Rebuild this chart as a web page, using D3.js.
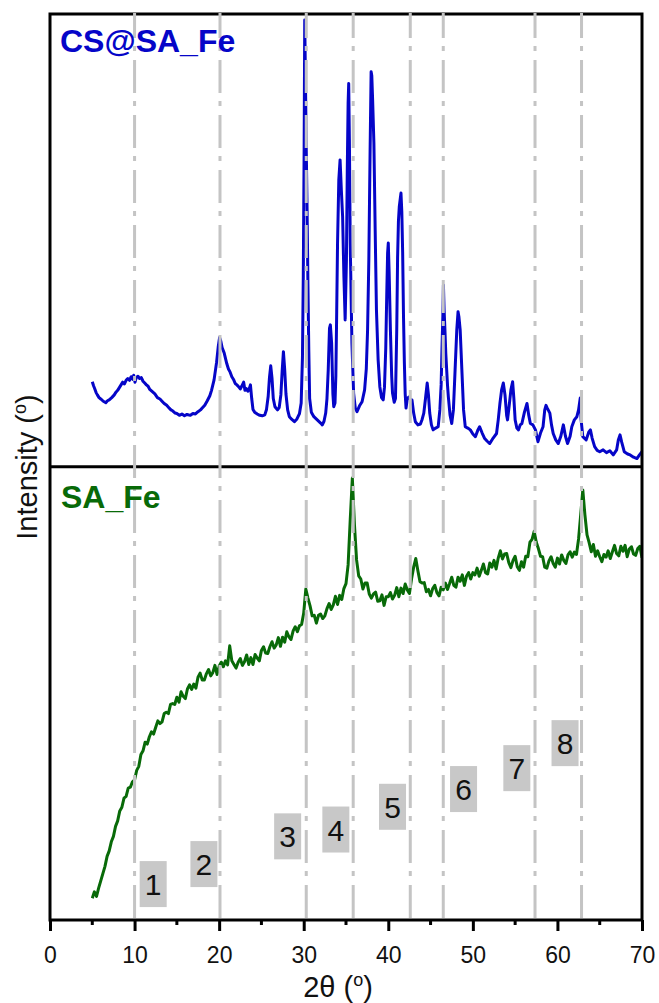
<!doctype html>
<meta charset="utf-8">
<style>
body { margin: 0; background: #fff; }
text { font-family: Arial, "Liberation Sans", sans-serif; }
</style>
<script src="https://d3js.org/d3.v7.min.js"></script>
<body>
<svg id="xrd"></svg>
<script>
// CS@SA_Fe pattern, [2theta, counts a.u.]
var csTheta = [5.0,5.15,5.3,5.45,5.6,5.8,6.0,6.3,6.6,6.8,7.0,7.3,7.6,7.8,8.0,8.2,8.4,8.6,8.8,9.0,9.2,9.4,9.6,9.8,9.9,10.05,10.2,10.4,10.6,10.8,11.0,11.2,11.4,11.6,11.8,12.1,12.4,12.7,13.0,13.3,13.5,13.8,14.0,14.3,14.5,14.8,15.0,15.3,15.6,15.9,16.2,16.6,16.9,17.2,17.5,17.8,18.0,18.3,18.6,18.9,19.1,19.4,19.7,19.9,20.05,20.2,20.35,20.6,20.9,21.1,21.3,21.5,21.7,21.9,22.1,22.3,22.5,22.7,22.9,23.05,23.2,23.4,23.6,23.7,23.85,24.0,24.2,24.5,24.8,25.1,25.4,25.6,25.8,25.95,26.1,26.25,26.4,26.6,26.9,27.1,27.3,27.45,27.6,27.75,27.9,28.1,28.3,28.6,28.9,29.2,29.5,29.7,29.85,29.95,30.05,30.12,30.2,30.3,30.4,30.5,30.6,30.7,30.9,31.2,31.6,32.0,32.2,32.4,32.6,32.75,32.9,33.05,33.15,33.3,33.45,33.55,33.7,33.8,33.9,34.0,34.15,34.3,34.45,34.6,34.75,34.9,35.05,35.15,35.25,35.32,35.4,35.5,35.6,35.7,35.9,36.1,36.3,36.6,36.9,37.2,37.4,37.55,37.7,37.85,37.97,38.05,38.15,38.3,38.45,38.6,38.8,39.0,39.2,39.4,39.55,39.7,39.82,39.92,40.0,40.1,40.25,40.4,40.5,40.7,40.85,41.0,41.1,41.2,41.3,41.42,41.5,41.6,41.7,41.8,41.9,42.0,42.1,42.25,42.4,42.6,42.8,43.0,43.2,43.5,43.8,44.0,44.2,44.4,44.6,44.75,44.9,45.1,45.3,45.6,45.9,46.1,46.25,46.35,46.45,46.52,46.6,46.7,46.8,47.0,47.1,47.3,47.5,47.7,47.9,48.1,48.25,48.35,48.5,48.7,48.9,49.1,49.4,49.7,50.0,50.3,50.6,50.8,51.1,51.4,51.7,52.0,52.4,52.8,53.0,53.2,53.4,53.6,53.8,54.0,54.1,54.3,54.5,54.7,54.85,55.0,55.2,55.4,55.6,55.8,56.1,56.4,56.6,56.8,57.1,57.4,57.7,58.0,58.3,58.5,58.65,58.8,59.1,59.3,59.5,59.8,60.1,60.4,60.7,60.95,61.2,61.5,61.7,62.0,62.3,62.5,62.7,62.8,63.0,63.4,63.7,63.9,64.1,64.4,64.7,65.0,65.4,65.8,66.2,66.6,67.0,67.2,67.4,67.6,67.9,68.3,68.6,69.0,69.4,69.7,70.0];
var csCounts = [187,178,171,163,158,152,149,144,141,145,147,152,158,164,168,174,180,186,182,190,194,190,198,192,201,186,196,199,194,196,188,184,180,177,170,165,160,152,149,143,139,135,131,125,123,118,117,113,116,112,115,113,117,116,121,125,129,135,145,156,168,191,230,265,284,276,262,250,227,215,208,198,192,183,180,176,171,178,186,168,172,166,174,180,150,126,120,116,113,112,114,126,155,196,222,195,150,132,125,130,158,210,253,214,160,125,110,104,99,105,117,140,240,420,700,983,860,700,564,400,257,150,120,110,103,96,92,100,118,150,213,305,312,272,160,132,140,200,340,492,631,675,608,550,420,323,455,650,800,843,720,492,380,272,162,129,121,134,143,169,215,300,455,696,869,860,806,711,520,345,235,176,152,147,175,260,380,470,492,429,301,200,162,142,150,301,460,540,572,590,602,560,470,330,230,160,129,150,153,148,147,118,99,92,94,104,118,150,184,158,118,92,81,85,88,125,180,260,330,400,345,300,249,180,154,114,95,125,213,301,341,330,301,213,125,88,85,81,72,66,81,88,74,62,56,51,63,73,103,139,169,184,158,112,103,135,169,187,150,103,85,81,92,95,120,139,114,95,92,81,55,74,88,125,135,129,118,92,73,59,51,67,92,67,51,67,88,103,110,125,151,103,66,59,76,81,63,44,36,33,37,31,35,26,37,59,70,54,33,28,26,21,18,26,33];

// SA_Fe pattern, scan from 5 deg in 0.25 deg steps
var saStart = 5, saStep = 0.25;
var saCounts = [
  48,62,52,70,86,102,118,140,152,172,184,206,218,240,248,268,272,290,292,304,      // 5 - 9.75
  308,329,338,364,372,391,387,403,414,409,424,438,432,436,454,457,454,474,476,474, // 10 - 14.75
  490,479,502,492,487,508,517,507,519,510,534,543,528,528,542,551,537,544,560,540, // 15 - 19.75
  558,567,557,570,561,603,570,562,554,567,575,560,568,583,562,577,562,584,576,570, // 20 - 24.75
  593,601,587,586,601,612,598,605,621,602,622,611,634,623,617,636,645,634,647,650, // 25 - 29.75
  675,728,708,691,669,670,653,670,673,663,669,685,696,683,693,712,694,714,705,729, // 30 - 34.75
  740,781,880,972,869,792,757,750,728,741,741,717,708,717,721,701,702,715,692,711, // 35 - 39.75
  711,720,706,714,731,711,730,718,739,726,718,750,776,795,768,744,741,742,722,727, // 40 - 44.75
  713,729,736,720,713,732,726,741,727,740,754,736,732,754,745,759,736,756,764,750, // 45 - 49.75
  764,759,774,756,769,783,764,761,785,776,791,772,796,812,794,805,806,786,775,791, // 50 - 54.75
  800,777,769,788,776,800,799,831,837,855,831,817,800,799,776,774,790,799,784,776, // 55 - 59.75
  796,783,803,791,784,803,810,798,809,804,838,891,946,891,847,830,810,826,800,812, // 60 - 64.75
  799,788,804,798,812,795,810,824,806,801,822,811,824,799,816,821,805,802,817,822, // 65 - 69.75
  797];

// reference reflections and numbered markers
var refLines = [10.0, 20.1, 30.3, 35.85, 42.6, 46.5, 57.35, 62.85];
var markNames = ["1","2","3","4","5","6","7","8"];
var markTheta = [12.2, 18.2, 28.1, 33.8, 40.5, 48.9, 55.2, 60.9];
var markLevel = [79, 123, 184, 199, 249, 288, 334, 389];

var xTicks = [0,10,20,30,40,50,60,70];
var xMinor = [5,15,25,35,45,55,65];

var width = 659, height = 1003;
var pLeft = 50, pRight = 642, pTop = 14, pMid = 466.7, pBottom = 920;

var svg = d3.select("#xrd").attr("width", width).attr("height", height);

var x = d3.scaleLinear().domain([0, 70]).range([pLeft, pRight]);
var yTop = d3.scaleLinear().domain([0, 996]).range([pMid, pTop]);
var yBot = d3.scaleLinear().domain([0, 997]).range([pBottom, pMid]);

var csData = csTheta.map(function(t, i){ return [t, csCounts[i]]; });
var saData = saCounts.map(function(c, i){ return [saStart + i*saStep, c]; });

var defs = svg.append("defs");
defs.append("clipPath").attr("id", "clipTop")
  .append("rect").attr("x", pLeft).attr("y", pTop).attr("width", pRight-pLeft).attr("height", pMid-pTop);
defs.append("clipPath").attr("id", "clipBot")
  .append("rect").attr("x", pLeft).attr("y", pMid).attr("width", pRight-pLeft).attr("height", pBottom-pMid);

// curves
svg.append("path")
  .datum(csData)
  .attr("clip-path", "url(#clipTop)")
  .attr("fill", "none")
  .attr("stroke", "#0505c8")
  .attr("stroke-width", 3)
  .attr("stroke-linejoin", "round")
  .attr("d", d3.line().x(function(d){ return x(d[0]); }).y(function(d){ return yTop(d[1]); }));

svg.append("path")
  .datum(saData)
  .attr("clip-path", "url(#clipBot)")
  .attr("fill", "none")
  .attr("stroke", "#086a08")
  .attr("stroke-width", 3)
  .attr("stroke-linejoin", "round")
  .attr("d", d3.line().x(function(d){ return x(d[0]); }).y(function(d){ return yBot(d[1]); }));

// frame + divider
svg.append("rect")
  .attr("x", pLeft).attr("y", pTop)
  .attr("width", pRight-pLeft).attr("height", pBottom-pTop)
  .attr("fill", "none").attr("stroke", "#000").attr("stroke-width", 3);
svg.append("line")
  .attr("x1", pLeft).attr("x2", pRight).attr("y1", pMid).attr("y2", pMid)
  .attr("stroke", "#000").attr("stroke-width", 3);

// x axis
var axis = svg.append("g")
  .attr("transform", "translate(0," + pBottom + ")")
  .call(d3.axisBottom(x).tickValues(xTicks).tickSize(11).tickPadding(16).tickFormat(d3.format("d")));
axis.select(".domain").remove();
axis.selectAll(".tick line").attr("stroke", "#000").attr("stroke-width", 3);
axis.selectAll(".tick text")
  .attr("font-family", "Arial, 'Liberation Sans', sans-serif")
  .attr("font-size", 23).attr("fill", "#111");
svg.append("g").selectAll("line")
  .data(xMinor).enter().append("line")
    .attr("x1", function(d){ return x(d); }).attr("x2", function(d){ return x(d); })
    .attr("y1", pBottom).attr("y2", pBottom + 5)
    .attr("stroke", "#000").attr("stroke-width", 3);

// dash-dot reference lines on top
svg.append("g").selectAll("line")
  .data(refLines).enter().append("line")
    .attr("x1", function(d){ return x(d); }).attr("x2", function(d){ return x(d); })
    .attr("y1", pTop - 1).attr("y2", pBottom)
    .attr("stroke", "#c4c4c4")
    .attr("stroke-width", 3)
    .attr("stroke-dasharray", "33,8,5,9")
    .attr("stroke-dashoffset", 8);

// numbered markers
var marks = svg.append("g").selectAll("g")
  .data(markNames).enter().append("g")
    .attr("transform", function(d, i){ return "translate(" + x(markTheta[i]) + "," + yBot(markLevel[i]) + ")"; });
marks.append("rect")
  .attr("x", -13.5).attr("y", -23).attr("width", 27).attr("height", 46)
  .attr("fill", "#c8c8c8");
marks.append("text")
  .attr("text-anchor", "middle").attr("y", 11)
  .attr("font-size", 30).attr("fill", "#111")
  .text(function(d){ return d; });

// sample labels
svg.append("text")
  .attr("x", 60).attr("y", 52)
  .attr("font-size", 32).attr("font-weight", "bold").attr("fill", "#0505c8")
  .text("CS@SA_Fe");
svg.append("text")
  .attr("x", 61).attr("y", 508)
  .attr("font-size", 32).attr("font-weight", "bold").attr("fill", "#086a08")
  .text("SA_Fe");

// axis titles
var xt = svg.append("text")
  .attr("x", 338).attr("y", 997)
  .attr("text-anchor", "middle").attr("font-size", 29).attr("fill", "#111");
xt.append("tspan").text("2θ (");
xt.append("tspan").attr("font-size", 18).attr("dy", -11).text("o");
xt.append("tspan").attr("dy", 11).text(")");

var yt = svg.append("text")
  .attr("transform", "translate(37," + ((pTop + pBottom)/2) + ") rotate(-90)")
  .attr("text-anchor", "middle").attr("font-size", 29).attr("fill", "#111");
yt.append("tspan").text("Intensity (");
yt.append("tspan").attr("font-size", 18).attr("dy", -11).text("o");
yt.append("tspan").attr("dy", 11).text(")");
</script>
</body>
